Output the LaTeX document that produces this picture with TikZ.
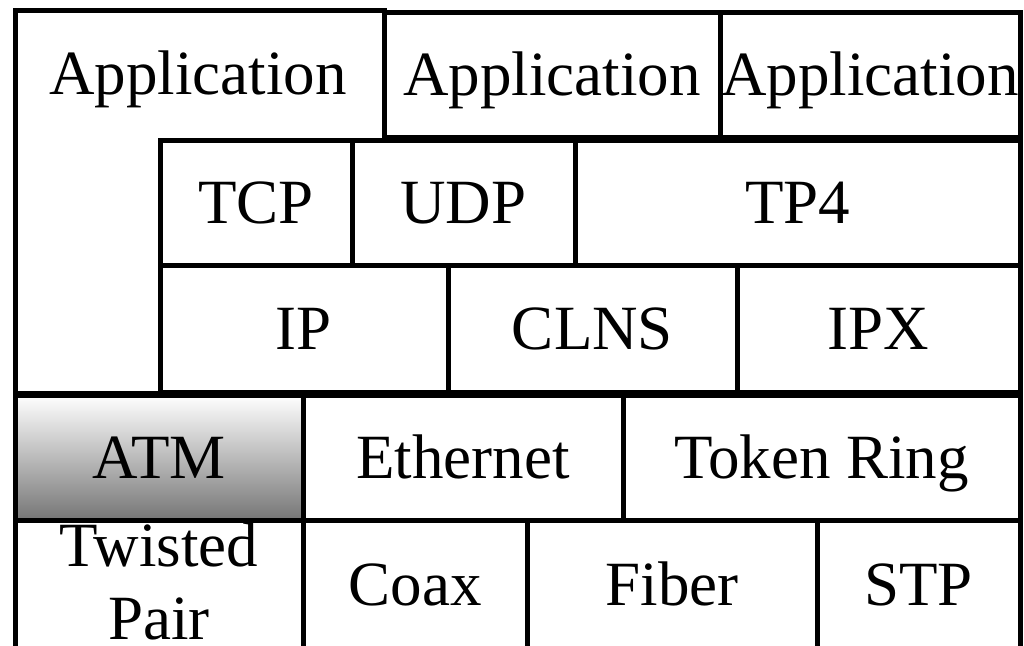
\documentclass[tikz,border=0pt]{standalone}
\usepackage{fontspec}
\setmainfont{Liberation Serif}
\begin{document}
\begin{tikzpicture}[x=1pt,y=-1pt,
  box/.style={draw=black, line width=5pt, fill=white, inner sep=0pt},
  lbl/.style={font=\fontsize{63}{73}\selectfont, inner sep=0pt, align=center, text height=42pt, text depth=0pt}]
\clip (0,0) rectangle (1024,645);
\fill[white] (0,0) rectangle (1024,645);
% top application row
\draw[box] (15,10) rectangle (384,393);
\node[box, minimum width=336pt, minimum height=125pt] (app2) at (552,74.5) {};
\node[box, minimum width=300pt, minimum height=125pt] (app3) at (870,74.5) {};
\node[lbl] (app1t) at (198,73) {Application};
\node[lbl] (app2t) at (app2.center) {Application};
\node[lbl] (app3t) at (app3.center) {Application};
% transport
\node[box, minimum width=192pt, minimum height=125pt] (tcp) at (256,202.5) {};
\node[box, minimum width=223pt, minimum height=125pt] (udp) at (463.5,202.5) {};
\node[box, minimum width=445pt, minimum height=125pt] (tp4) at (797.5,202.5) {};
\node[lbl] at (tcp.center) {TCP};
\node[lbl] at (udp.center) {UDP};
\node[lbl] at (tp4.center) {TP4};
% network
\node[box, minimum width=288pt, minimum height=127pt] (ip) at (304,328.5) {};
\node[box, minimum width=289pt, minimum height=127pt] (clns) at (592.5,328.5) {};
\node[box, minimum width=283pt, minimum height=127pt] (ipx) at (878.5,328.5) {};
\node[lbl] at (ip.center) {IP};
\node[lbl] at (clns.center) {CLNS};
\node[lbl] at (ipx.center) {IPX};
% physical (bottom row, cut off)
\node[box, minimum width=288pt, minimum height=128pt] (tp) at (159,584) {};
\node[box, minimum width=224pt, minimum height=128pt] (coax) at (415,584) {};
\node[box, minimum width=290pt, minimum height=128pt] (fiber) at (672,584) {};
\node[box, minimum width=203pt, minimum height=128pt] (stp) at (918.5,584) {};
\node[font=\fontsize{63}{73}\selectfont, inner sep=0pt, align=center, anchor=base] at (159,639) {Twisted\\Pair};
\node[lbl] at (coax.center) {Coax};
\node[lbl] at (fiber.center) {Fiber};
\node[lbl] at (stp.center) {STP};
% link
\node[box, minimum width=288pt, minimum height=125pt, top color=white, bottom color={rgb,255:red,118;green,118;blue,118}] (atm) at (159,457.5) {};
\node[box, minimum width=320pt, minimum height=125pt] (eth) at (463,457.5) {};
\node[box, minimum width=397pt, minimum height=125pt] (tr) at (821.5,457.5) {};
\node[lbl] at (atm.center) {ATM};
\node[lbl] at (eth.center) {Ethernet};
\node[lbl] at (tr.center) {Token Ring};
\end{tikzpicture}
\end{document}
